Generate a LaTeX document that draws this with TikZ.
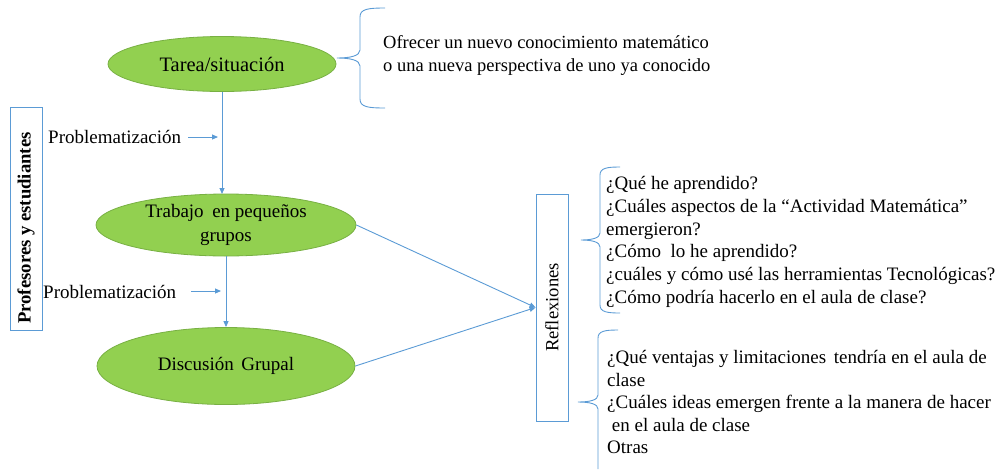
\documentclass[tikz,border=0pt]{standalone}
\usepackage{fontspec}
\setmainfont{Liberation Serif}
\usetikzlibrary{shapes.geometric,arrows.meta}
\definecolor{bl}{HTML}{5B9BD5}
\definecolor{gf}{HTML}{92D050}
\definecolor{gd}{HTML}{78B043}
\begin{document}
\begin{tikzpicture}[x=1pt,y=-1pt,
  ell/.style={ellipse, draw=gd, fill=gf, line width=0.8pt, inner sep=0pt, align=center},
  ln/.style={draw=bl, line width=0.9pt},
  arr/.style={ln, -{Triangle[length=6pt,width=5pt]}},
  bx/.style={draw=bl, line width=0.9pt, rotate=90, inner sep=0pt},
  txt/.style={inner sep=0pt, align=left, font=\fontsize{19}{22.8}\selectfont},
  brace/.style={draw=bl, line width=0.9pt}]
\useasboundingbox (0,0) rectangle (1000,469);

% ellipses
\node[ell, minimum width=228, minimum height=55, font=\fontsize{20.5}{24}\selectfont] (e1) at (222,64) {Tarea/situación};
\node[ell, minimum width=260, minimum height=62, font=\fontsize{19}{24}\selectfont] (e2) at (226,225) {Trabajo\hspace{0.45em}en pequeños\\grupos};
\node[ell, minimum width=258, minimum height=77, font=\fontsize{19}{24}\selectfont] (e3) at (226,366) {Discusión\hspace{0.4em}Grupal};

% vertical arrows
\draw[arr] (e1.south -| 222,0) -- (222,194);
\draw[arr] (e2.south) -- (e3.north);

% Problematización labels
\node[txt, anchor=west] (p1) at (48,137) {Problematización};
\coordinate (a1) at (218,137);
\draw[arr] ([xshift=7pt]p1.east) -- (a1);
\node[txt, anchor=west] (p2) at (43,292) {Problematización};
\coordinate (a2) at (221,291);
\draw[arr] ([xshift=15pt,yshift=1pt]p2.east) -- (a2);

% left box
\node[bx, minimum width=223, minimum height=32] (pbox) at (26,218.5) {};
\node[rotate=90, inner sep=0pt, font=\fontsize{18.7}{22}\selectfont\bfseries] (ptxt) at (26,228) {Profesores y estudiantes};

% Reflexiones box
\node[bx, minimum width=227, minimum height=32, font=\fontsize{18.6}{22}\selectfont] (refl) at (552,307.5) {Reflexiones};
\draw[arr] (e2.east) -- (refl.north);
\draw[arr] (e3.east) -- (refl.north);

% brace 1
\draw[brace] (385,8) .. controls (368,8) and (360,9) .. (360,17) -- (360,50)
  .. controls (360,56) and (350,58) .. (337,58)
  .. controls (350,58) and (360,60) .. (360,66) -- (360,99)
  .. controls (360,107) and (368,108) .. (385,108);
\node[txt, anchor=west, font=\fontsize{18.5}{23}\selectfont] (t1) at (383,55)
  {Ofrecer un nuevo conocimiento matemático\\o una nueva perspectiva de uno ya conocido};

% brace 2
\draw[brace] (620,167) .. controls (607,167) and (600,168) .. (600,175) -- (600,233)
  .. controls (600,238) and (592,240) .. (581,240)
  .. controls (592,240) and (600,242) .. (600,247) -- (600,305)
  .. controls (600,312) and (607,313) .. (620,313);
\node[txt, anchor=west] (t2) at (606,242)
  {¿Qué he aprendido?\\
   ¿Cuáles aspectos de la “Actividad Matemática”\\
   emergieron?\\
   ¿Cómo\ \ lo he aprendido?\\
   ¿cuáles y cómo usé las herramientas Tecnológicas?\\
   ¿Cómo podría hacerlo en el aula de clase?};

% brace 3
\draw[brace] (618,330) .. controls (605,330) and (598,331) .. (598,338) -- (598,395)
  .. controls (598,400) and (590,402) .. (578,402)
  .. controls (590,402) and (598,404) .. (598,409) -- (598,469);
\node[txt, anchor=west, font=\fontsize{19}{22.5}\selectfont] (t3) at (607,402)
  {¿Qué ventajas y limitaciones\hspace{0.4em}tendría en el aula de\\
   clase\\
   ¿Cuáles ideas emergen frente a la manera de hacer\\
   \ en el aula de clase\\
   Otras};
\end{tikzpicture}
\end{document}
